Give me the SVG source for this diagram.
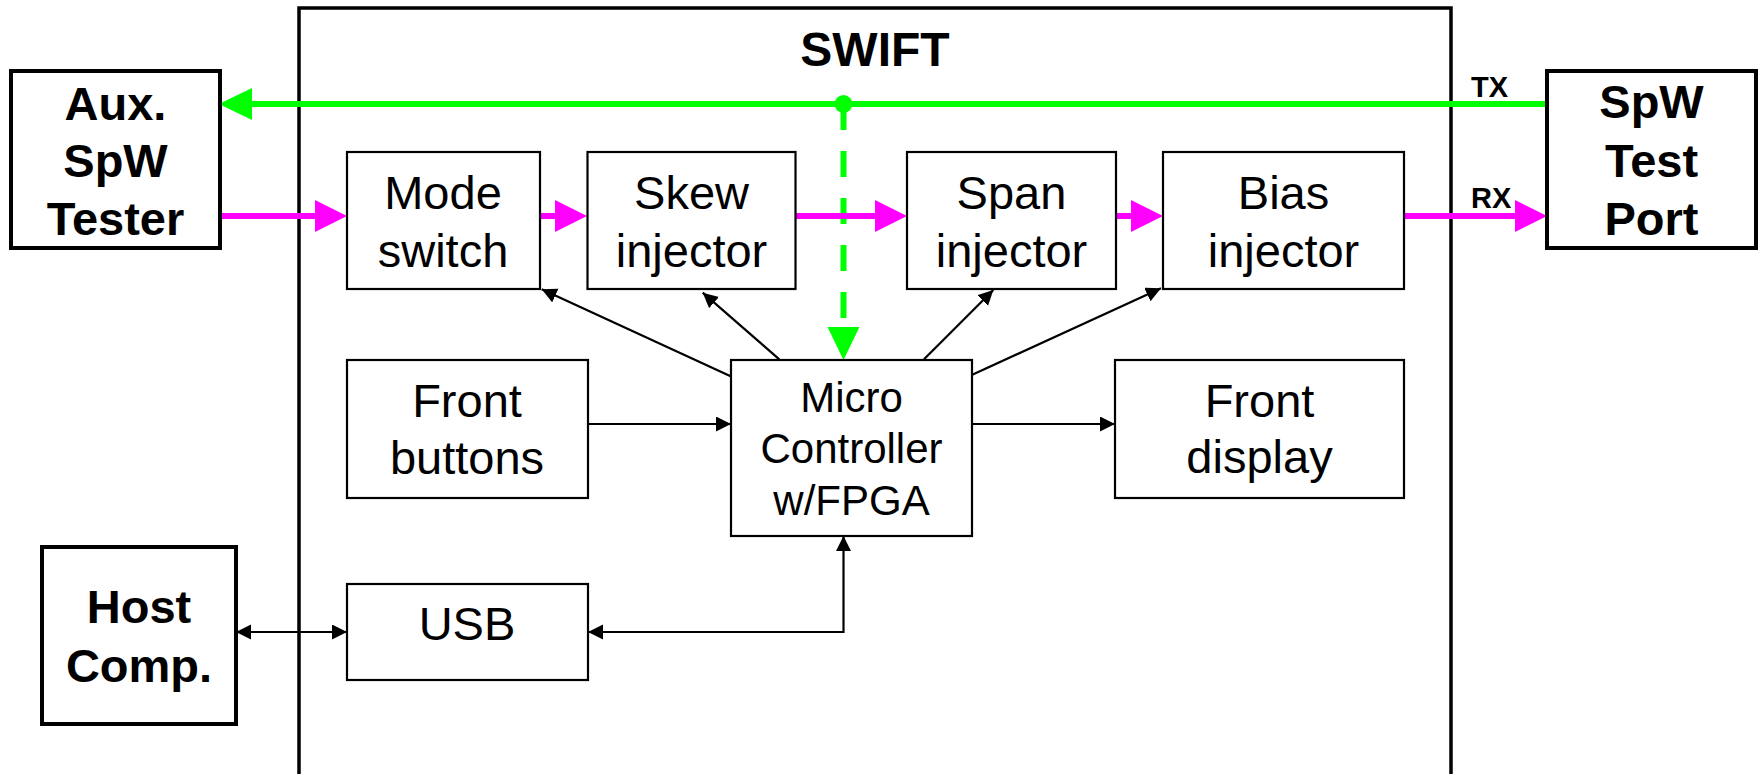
<svg xmlns="http://www.w3.org/2000/svg" width="1761" height="774" viewBox="0 0 1761 774">
  <style>
    .box { fill: #ffffff; stroke: #000000; stroke-width: 2.2; }
    .ext { fill: #ffffff; stroke: #000000; stroke-width: 4; }
    .frame { fill: none; stroke: #000000; stroke-width: 3.5; }
    .lbl { font-family: "Liberation Sans", Arial, sans-serif; font-size: 47px; fill: #000000; text-anchor: middle; }
    .mc { font-size: 42px; }
    .bold { font-weight: bold; }
    .tag { font-family: "Liberation Sans", Arial, sans-serif; font-size: 29px; font-weight: bold; fill: #000000; }
    .ctl { fill: none; stroke: #000000; stroke-width: 2.2; }
    .rx { fill: none; stroke: #ff00ff; stroke-width: 6; }
    .tx { fill: none; stroke: #00ff00; stroke-width: 6; }
  </style>
  <defs>
    <marker id="arr" markerUnits="userSpaceOnUse" markerWidth="16" markerHeight="16" refX="15" refY="7.5" orient="auto-start-reverse" viewBox="0 0 16 16">
      <path d="M0,0 L15,7.5 L0,15 z" fill="#000000"/>
    </marker>
    <marker id="mag" markerUnits="userSpaceOnUse" markerWidth="33" markerHeight="33" refX="0" refY="16" orient="auto" viewBox="0 0 33 33">
      <path d="M0,0 L32,16 L0,32 z" fill="#ff00ff"/>
    </marker>
    <marker id="grn" markerUnits="userSpaceOnUse" markerWidth="34" markerHeight="34" refX="0" refY="16" orient="auto" viewBox="0 0 34 34">
      <path d="M0,0 L33,16 L0,32 z" fill="#00ff00"/>
    </marker>
  </defs>

  <rect width="1761" height="774" fill="#ffffff"/>

  <!-- SWIFT enclosure (open at the bottom) -->
  <g id="swift">
    <path class="frame" d="M299,780 L299,8 L1451,8 L1451,780"/>
    <text class="lbl bold" x="875" y="66" style="font-size:48px">SWIFT</text>
  </g>

  <!-- connectors -->
  <g id="connectors">
    <!-- TX bus (green) -->
    <line class="tx" x1="1547" y1="104" x2="252" y2="104" marker-end="url(#grn)"/>
    <circle cx="843.5" cy="104" r="9" fill="#00ff00"/>
    <line class="tx" x1="843.5" y1="104" x2="843.5" y2="318" stroke-dasharray="26 21"/>
    <path d="M827.5,327 L859.5,327 L843.5,360 z" fill="#00ff00"/>

    <!-- RX chain (magenta) -->
    <line class="rx" x1="220" y1="216" x2="315" y2="216" marker-end="url(#mag)"/>
    <line class="rx" x1="540" y1="216" x2="555" y2="216" marker-end="url(#mag)"/>
    <line class="rx" x1="796" y1="216" x2="875" y2="216" marker-end="url(#mag)"/>
    <line class="rx" x1="1116" y1="216" x2="1131" y2="216" marker-end="url(#mag)"/>
    <line class="rx" x1="1404" y1="216" x2="1515" y2="216" marker-end="url(#mag)"/>

    <!-- controller links -->
    <line class="ctl" x1="731.7" y1="376.7" x2="541.7" y2="289.3" marker-end="url(#arr)"/>
    <line class="ctl" x1="779.3" y1="359.3" x2="702.7" y2="292.7" marker-end="url(#arr)"/>
    <line class="ctl" x1="924" y1="359.3" x2="993.3" y2="290" marker-end="url(#arr)"/>
    <line class="ctl" x1="971.7" y1="375" x2="1161" y2="288.3" marker-end="url(#arr)"/>
    <line class="ctl" x1="588" y1="424" x2="731" y2="424" marker-end="url(#arr)"/>
    <line class="ctl" x1="972" y1="424" x2="1115" y2="424" marker-end="url(#arr)"/>
    <path class="ctl" d="M588,632 L843.5,632 L843.5,536" marker-start="url(#arr)" marker-end="url(#arr)"/>
    <line class="ctl" x1="236" y1="632" x2="347" y2="632" marker-start="url(#arr)" marker-end="url(#arr)"/>

    <text class="tag" x="1471" y="97">TX</text>
    <text class="tag" x="1471" y="208">RX</text>
  </g>

  <!-- external units -->
  <g id="aux-tester">
    <rect class="ext" x="11" y="71" width="209" height="177"/>
    <text class="lbl bold"><tspan x="115.5" y="120">Aux.</tspan><tspan x="115.5" y="177">SpW</tspan><tspan x="115.5" y="235">Tester</tspan></text>
  </g>
  <g id="spw-test-port">
    <rect class="ext" x="1547" y="71" width="209" height="177"/>
    <text class="lbl bold"><tspan x="1651.5" y="118">SpW</tspan><tspan x="1651.5" y="177">Test</tspan><tspan x="1651.5" y="235">Port</tspan></text>
  </g>
  <g id="host-comp">
    <rect class="ext" x="42" y="547" width="194" height="177"/>
    <text class="lbl bold"><tspan x="139" y="623">Host</tspan><tspan x="139" y="682">Comp.</tspan></text>
  </g>

  <!-- internal blocks -->
  <g id="mode-switch">
    <rect class="box" x="347" y="152" width="193" height="137"/>
    <text class="lbl"><tspan x="443" y="209">Mode</tspan><tspan x="443" y="266.5">switch</tspan></text>
  </g>
  <g id="skew-injector">
    <rect class="box" x="587.5" y="152" width="208" height="137"/>
    <text class="lbl"><tspan x="691.5" y="208.5">Skew</tspan><tspan x="691.5" y="266.5">injector</tspan></text>
  </g>
  <g id="span-injector">
    <rect class="box" x="907" y="152" width="209" height="137"/>
    <text class="lbl"><tspan x="1011.5" y="208.5">Span</tspan><tspan x="1011.5" y="266.5">injector</tspan></text>
  </g>
  <g id="bias-injector">
    <rect class="box" x="1163" y="152" width="241" height="137"/>
    <text class="lbl"><tspan x="1283.5" y="208.5">Bias</tspan><tspan x="1283.5" y="266.5">injector</tspan></text>
  </g>
  <g id="front-buttons">
    <rect class="box" x="347" y="360" width="241" height="138"/>
    <text class="lbl"><tspan x="467" y="416.5">Front</tspan><tspan x="467" y="474">buttons</tspan></text>
  </g>
  <g id="micro-controller">
    <rect class="box" x="731" y="360" width="241" height="176"/>
    <text class="lbl mc"><tspan x="851.5" y="411.5">Micro</tspan><tspan x="851.5" y="463">Controller</tspan><tspan x="851.5" y="515">w/FPGA</tspan></text>
  </g>
  <g id="front-display">
    <rect class="box" x="1115" y="360" width="289" height="138"/>
    <text class="lbl"><tspan x="1259.5" y="416.5">Front</tspan><tspan x="1259.5" y="473">display</tspan></text>
  </g>
  <g id="usb">
    <rect class="box" x="347" y="584" width="241" height="96"/>
    <text class="lbl" x="467" y="640">USB</text>
  </g>
</svg>
